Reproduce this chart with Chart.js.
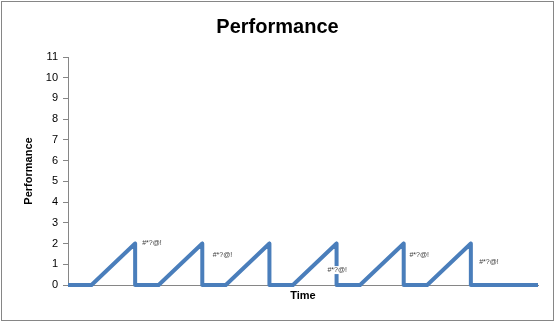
<!DOCTYPE html>
<html>
<head>
<meta charset="utf-8">
<script src="https://cdn.jsdelivr.net/npm/chart.js@4/dist/chart.umd.min.js"></script>
<style>
  html, body { margin: 0; padding: 0; background: #fff; }
  #wrap { width: 555px; height: 322px; }
</style>
</head>
<body>
<div id="wrap"><canvas id="myChart"></canvas></div>
<script>
// sawtooth: flat, climb to 2, straight drop
var timePoints = [0, 0.35, 1.0, 1.0, 1.35, 2.0, 2.0, 2.35, 3.0, 3.0, 3.35, 4.0, 4.0, 4.35, 5.0, 5.0, 5.35, 6.0, 6.0, 7.0];
var perfValues = [0, 0, 2, 0, 0, 2, 0, 0, 2, 0, 0, 2, 0, 0, 2, 0, 0, 2, 0, 0];
var yTicks = [0, 1, 2, 3, 4, 5, 6, 7, 8, 9, 10, 11];

// little "#*?@!" notes
var noteText = '#*?@!';
var noteX = [1.25, 2.30, 4.01, 5.23, 6.27];
var noteY = [2.03, 1.45, 0.72, 1.45, 1.11];

var points = timePoints.map(function (t, i) {
    return { x: t, y: perfValues[i] };
});

var fontFamily = '"Liberation Sans", Arial, sans-serif';

var notesPlugin = {
    id: 'notes',
    afterDatasetsDraw: function (chart) {
        var ctx = chart.ctx;
        var xs = chart.scales.x, ys = chart.scales.y;
        ctx.save();
        ctx.font = '7px ' + fontFamily;
        ctx.textAlign = 'center';
        ctx.textBaseline = 'middle';
        noteX.forEach(function (nx, i) {
            var px = xs.getPixelForValue(nx);
            var py = ys.getPixelForValue(noteY[i]);
            var w = ctx.measureText(noteText).width;
            ctx.fillStyle = '#fff';
            ctx.fillRect(px - w / 2 - 1, py - 4, w + 2, 8);
            ctx.fillStyle = '#404040';
            ctx.fillText(noteText, px, py);
        });
        ctx.restore();
    }
};

var borderPlugin = {
    id: 'outerBorder',
    afterDraw: function (chart) {
        var ctx = chart.ctx;
        ctx.save();
        ctx.strokeStyle = '#868686';
        ctx.lineWidth = 1;
        ctx.strokeRect(1.5, 1.5, 552, 319);
        ctx.restore();
    }
};

var myChart = document.getElementById('myChart').getContext('2d');
var chart = new Chart(myChart, {
    type: 'line',
    data: {
        datasets: [{
            data: points,
            borderColor: '#4a7ebb',
            borderWidth: 4,
            borderJoinStyle: 'round',
            pointRadius: 0,
            tension: 0,
            fill: false,
            clip: false
        }]
    },
    options: {
        responsive: true,
        maintainAspectRatio: false,
        animation: false,
        layout: { padding: 0 },
        plugins: {
            legend: { display: false },
            tooltip: { enabled: false },
            title: {
                display: true,
                text: 'Performance',
                color: '#000',
                font: { family: fontFamily, size: 20, weight: 'bold' },
                padding: { top: 15, bottom: 18 }
            }
        },
        scales: {
            x: {
                type: 'linear',
                min: 0,
                max: 7,
                grid: { display: false },
                border: { color: '#868686', width: 1 },
                ticks: { display: false },
                title: {
                    display: true,
                    text: 'Time',
                    color: '#000',
                    font: { family: fontFamily, size: 11, weight: 'bold' },
                    padding: { top: 0, bottom: 19 }
                },
                afterFit: function (scale) { scale.height = 37; }
            },
            y: {
                min: 0,
                max: 11,
                afterBuildTicks: function (scale) {
                    scale.ticks = yTicks.map(function (v) { return { value: v }; });
                },
                grid: {
                    drawOnChartArea: false,
                    drawTicks: true,
                    tickLength: 5,
                    color: '#868686'
                },
                border: { color: '#868686', width: 1 },
                ticks: {
                    color: '#000',
                    padding: 5,
                    font: { family: fontFamily, size: 11 }
                },
                title: {
                    display: true,
                    text: 'Performance',
                    color: '#000',
                    font: { family: fontFamily, size: 11, weight: 'bold' },
                    padding: { top: 22, bottom: 0 }
                },
                afterFit: function (scale) { scale.width = 68; }
            },
            // empty right-side spacer so the title centres on the whole canvas
            yRight: {
                position: 'right',
                min: 0,
                max: 11,
                grid: { display: false },
                border: { display: false },
                ticks: { display: false },
                afterFit: function (scale) { scale.width = 17; }
            }
        }
    },
    plugins: [notesPlugin, borderPlugin]
});
</script>
</body>
</html>
